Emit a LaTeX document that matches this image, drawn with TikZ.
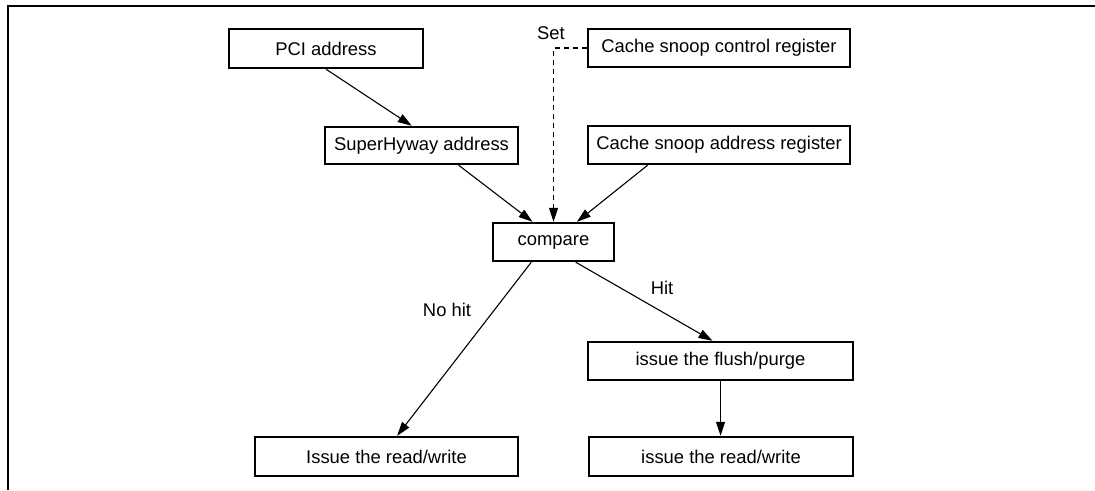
\documentclass[tikz,border=0pt]{standalone}
\usepackage{fontspec}
\setmainfont{Liberation Sans}
\usetikzlibrary{arrows.meta,calc}
\begin{document}
\begin{tikzpicture}[x=1pt,y=-1pt,
  box/.style={draw,line width=2.4pt,rectangle,inner sep=0pt,minimum height=38pt,font=\fontsize{18.4}{22}\selectfont},
  lbl/.style={inner sep=0pt,font=\fontsize{18.4}{22}\selectfont},
  conn/.style={line width=1.1pt,-{Triangle[length=14pt,width=9pt]}},
  dconn/.style={conn,dash pattern=on 5pt off 4pt}]
\useasboundingbox (0,0) rectangle (1095,490);
\draw[line width=2.4pt] (8,490) -- (8,6) -- (1095,6);
\node[box,minimum width=194pt,minimum height=39pt] (pci) at (326,48.5) {PCI address};
\node[box,minimum width=193pt,minimum height=37pt] (shw) at (421.5,145.5) {SuperHyway address};
\node[box,minimum width=262pt] (csc) at (719,48) {Cache snoop control register};
\node[box,minimum width=262pt] (csa) at (719,145) {Cache snoop address register};
\node[box,minimum width=121pt] (cmp) at (553.5,242) {compare};
\node[box,minimum width=265pt] (flush) at (720.5,361) {issue the flush/purge};
\node[box,minimum width=263pt,minimum height=39pt] (rwl) at (386.5,456.5) {Issue the read/write};
\node[box,minimum width=264pt,minimum height=39pt] (rwr) at (721,456.5) {issue the read/write};
\node[lbl] (set) at (551,33) {Set};
\node[lbl] (nohit) at (447,310) {No hit};
\node[lbl] (hit) at (662,288) {Hit};
\draw[conn] (pci.south) -- ($(shw.north west)!0.45!(shw.north east)$);
\draw[conn] ($(shw.south west)!0.69!(shw.south east)$) -- ($(cmp.north west)!0.33!(cmp.north east)$);
\draw[conn] ($(csa.south west)!0.23!(csa.south east)$) -- ($(cmp.north west)!0.69!(cmp.north east)$);
\draw[dconn] (csc.west) -| (cmp.north);
\draw[conn] ($(cmp.south west)!0.32!(cmp.south east)$) -- ($(rwl.north west)!0.54!(rwl.north east)$);
\draw[conn] ($(cmp.south west)!0.68!(cmp.south east)$) -- ($(flush.north west)!0.47!(flush.north east)$);
\draw[conn] (flush.south) -- (flush.south |- rwr.north);
\end{tikzpicture}
\end{document}
